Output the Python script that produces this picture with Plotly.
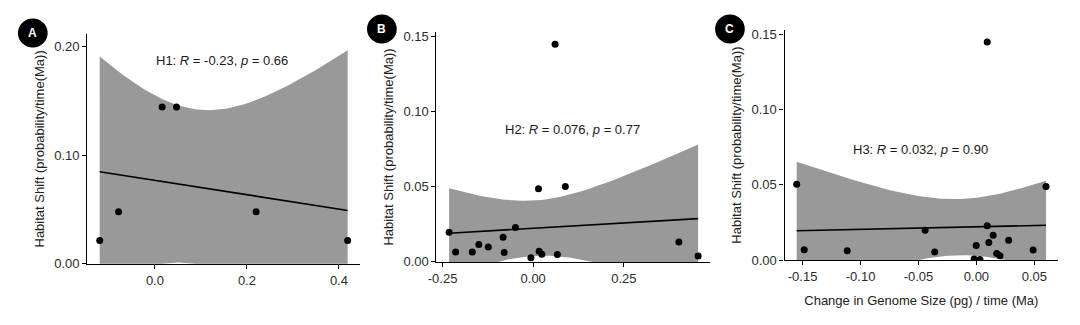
import math
import numpy as np
import plotly.graph_objects as go

# ---------------- data ----------------
a_x = [-0.120, -0.079, 0.0157, 0.047, 0.220, 0.419]
a_y = [0.0216, 0.048, 0.1443, 0.1443, 0.048, 0.0216]

b_x = [-0.232, -0.214, -0.168, -0.150, -0.124, -0.083, -0.080, -0.049, -0.0064,
       0.0146, 0.0164, 0.0238, 0.0603, 0.0667, 0.0886, 0.402, 0.455]
b_y = [0.0197, 0.0066, 0.0066, 0.0116, 0.0099, 0.0165, 0.0062, 0.0229, 0.0028,
       0.0488, 0.0071, 0.0051, 0.145, 0.0049, 0.0503, 0.0133, 0.0039]

c_x = [-0.1551, -0.1486, -0.1115, -0.0443, -0.036, -0.0002, 0.0093, 0.0093, 0.0107,
       0.0144, 0.0175, 0.0203, 0.0278, 0.0489, 0.060, -0.002, 0.003]
c_y = [0.0504, 0.0069, 0.0062, 0.0197, 0.0054, 0.0096, 0.0227, 0.1449, 0.0116,
       0.0165, 0.0043, 0.0028, 0.0131, 0.0066, 0.0489, 0.0006, 0.0004]

labels = ["A", "B", "C"]
notes = [("H1", "-0.23", "0.66"), ("H2", "0.076", "0.77"), ("H3", "0.032", "0.90")]
y_title = "Habitat Shift (probability/time(Ma))"
x_title = "Change in Genome Size (pg) / time (Ma)"

a_xticks = [0.0, 0.2, 0.4]
a_yticks = [0.0, 0.1, 0.2]
b_xticks = [-0.25, 0.0, 0.25]
b_yticks = [0.0, 0.05, 0.10, 0.15]
c_xticks = [-0.15, -0.10, -0.05, 0.0, 0.05]
c_yticks = [0.0, 0.05, 0.10, 0.15]


# ---------------- stats (lm + 95% CI like geom_smooth) ----------------
def t_quantile(p, df):
    c = math.exp(math.lgamma((df + 1) / 2) - math.lgamma(df / 2)) / math.sqrt(df * math.pi)
    def cdf(t):
        g = np.linspace(0, t, 4001)
        f = c * (1 + g ** 2 / df) ** (-(df + 1) / 2)
        return 0.5 + np.trapezoid(f, g)
    lo, hi = 0.0, 20.0
    for _ in range(60):
        mid = (lo + hi) / 2
        if cdf(mid) < p:
            lo = mid
        else:
            hi = mid
    return (lo + hi) / 2


def smooth(x, y, n=80):
    x = np.asarray(x); y = np.asarray(y)
    N = len(x)
    mx, my = x.mean(), y.mean()
    sxx = ((x - mx) ** 2).sum()
    b = ((x - mx) * (y - my)).sum() / sxx
    a = my - b * mx
    res = y - (a + b * x)
    s = math.sqrt((res ** 2).sum() / (N - 2))
    tq = t_quantile(0.975, N - 2)
    g = np.linspace(x.min(), x.max(), n)
    fit = a + b * g
    se = s * np.sqrt(1 / N + (g - mx) ** 2 / sxx)
    return g, fit, fit - tq * se, fit + tq * se


panels = [
    (a_x, a_y, a_xticks, a_yticks, [-0.147, 0.446], [0, 0.2116], [0.0731, 0.3278], [0.1692, 0.9015]),
    (b_x, b_y, b_xticks, b_yticks, [-0.267, 0.488], [0, 0.1532], [0.3991, 0.6546], [0.1754, 0.9077]),
    (c_x, c_y, c_xticks, c_yticks, [-0.1656, 0.0705], [0, 0.1528], [0.7241, 0.9796], [0.1815, 0.9138]),
]
note_pos = [(0.145, 0.1867), (0.108, 0.0884), (-0.0483, 0.0733)]
tick_fmt = [["0.0", "0.2", "0.4"], ["0.00", "0.10", "0.20"],
            ["-0.25", "0.00", "0.25"], ["0.00", "0.05", "0.10", "0.15"],
            ["-0.15", "-0.10", "-0.05", "0.00", "0.05"], ["0.00", "0.05", "0.10", "0.15"]]

FONT = "Liberation Sans, Arial, sans-serif"
fig = go.Figure()
layout = dict(
    width=1080, height=325, margin=dict(l=0, r=0, t=0, b=0),
    paper_bgcolor="white", plot_bgcolor="white", showlegend=False,
    font=dict(family=FONT, size=13, color="#222222"),
)
annotations = []
shapes = []

for i, (px, py, xt, yt, xr, yr, xd, yd) in enumerate(panels):
    sfx = "" if i == 0 else str(i + 1)
    xa, ya = "x" + sfx, "y" + sfx
    g, fit, lo, hi = smooth(px, py)
    fig.add_trace(go.Scatter(
        x=np.concatenate([g, g[::-1]]), y=np.concatenate([hi, lo[::-1]]),
        fill="toself", fillcolor="#999999", line=dict(width=0), mode="lines",
        hoverinfo="skip", xaxis=xa, yaxis=ya))
    fig.add_trace(go.Scatter(x=g, y=fit, mode="lines", line=dict(color="black", width=1.6),
                             xaxis=xa, yaxis=ya))
    fig.add_trace(go.Scatter(x=px, y=py, mode="markers",
                             marker=dict(color="black", size=7), xaxis=xa, yaxis=ya))
    axis_common = dict(showgrid=False, zeroline=False, showline=True, linecolor="black",
                       linewidth=1.2, ticks="outside", ticklen=4, tickcolor="black",
                       tickwidth=1, tickfont=dict(family=FONT, size=13, color="#2b2b2b"))
    layout["xaxis" + sfx] = dict(axis_common, domain=xd, range=xr, tickvals=xt,
                                 ticktext=tick_fmt[2 * i], anchor=ya,
                                 title=dict(text=x_title if i == 2 else "",
                                            font=dict(size=13, color="#222222"), standoff=13))
    layout["yaxis" + sfx] = dict(axis_common, domain=yd, range=yr, tickvals=yt,
                                 ticktext=tick_fmt[2 * i + 1], anchor=xa,
                                 title=dict(text=y_title, font=dict(size=13, color="#222222"),
                                            standoff=6))
    h, r, p = notes[i]
    annotations.append(dict(
        x=note_pos[i][0], y=note_pos[i][1], xref=xa, yref=ya, showarrow=False,
        xanchor="center", yanchor="middle",
        text=f"{h}: <i>R</i> = {r}, <i>p</i> = {p}",
        font=dict(family=FONT, size=13, color="#1a1a1a")))

# panel letter badges
badge_pos = [(24, 31), (376, 27), (727, 27)]
for (bx, by), lab in zip(badge_pos, labels):
    r = 15
    shapes.append(dict(type="circle", xref="paper", yref="paper",
                       x0=(bx - r) / 1080, x1=(bx + r) / 1080,
                       y0=1 - (by + r) / 325, y1=1 - (by - r) / 325,
                       fillcolor="black", line=dict(width=0)))
    annotations.append(dict(x=bx / 1080, y=1 - by / 325, xref="paper", yref="paper",
                            showarrow=False, xanchor="center", yanchor="middle",
                            text=f"<b>{lab}</b>",
                            font=dict(family=FONT, size=12, color="white")))

layout["annotations"] = annotations
layout["shapes"] = shapes
fig.update_layout(**layout)
fig.write_html("out.html")
